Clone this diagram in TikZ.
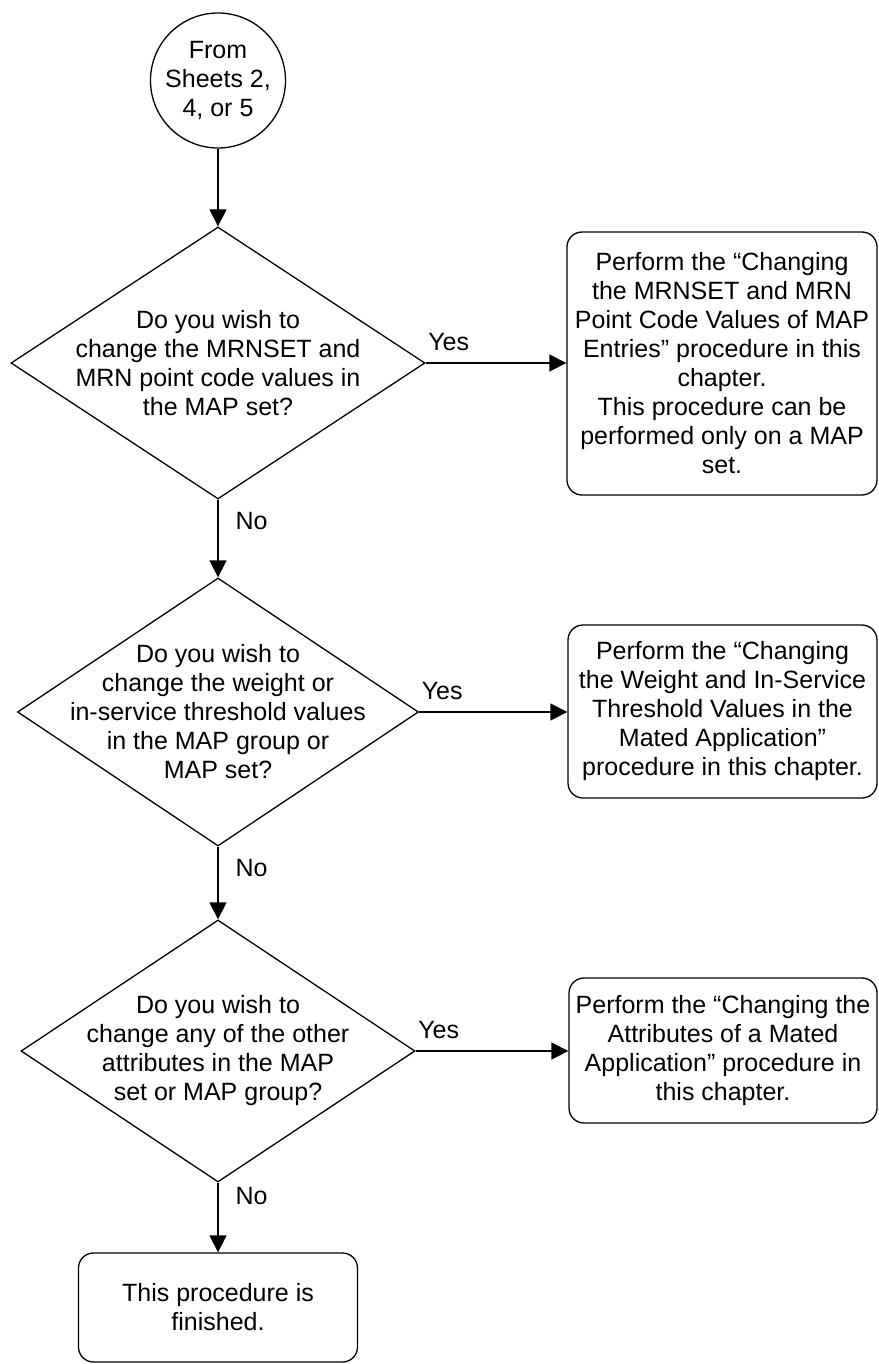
\documentclass[tikz,border=0pt]{standalone}
\usepackage{fontspec}
\setmainfont{Liberation Sans}
\usetikzlibrary{shapes.geometric,arrows.meta}
\begin{document}
\begin{tikzpicture}[x=1pt,y=-1pt,
  every node/.style={font=\fontsize{25}{29}\selectfont, align=center},
  ln/.style={line width=1.3pt},
  arr/.style={ln, -{Triangle[length=17pt,width=17pt]}},
  startc/.style={circle, draw, ln, minimum size=135pt, inner sep=0pt},
  dec/.style={diamond, draw, ln, inner sep=0pt},
  procbox/.style={rectangle, draw, ln, rounded corners=15pt, inner sep=0pt},
  lbl/.style={inner sep=0pt}]
\useasboundingbox (0,0) rectangle (878,1364);

\node[startc] (c) at (218,80.5) {From\\Sheets 2,\\4, or 5};

\node[dec, minimum width=414pt, minimum height=272pt,
  label={center:{Do you wish to\\change the MRNSET and\\MRN point code values in\\the MAP set?}}]
  (d1) at (218,363) {};
\node[dec, minimum width=401pt, minimum height=268pt,
  label={center:{Do you wish to\\change the weight or\\in-service threshold values\\in the MAP group or\\MAP set?}}]
  (d2) at (218,712) {};
\node[dec, minimum width=394pt, minimum height=262pt,
  label={center:{Do you wish to\\change any of the other\\attributes in the MAP\\set or MAP group?}}]
  (d3) at (218,1051) {};

\node[procbox, minimum width=310pt, minimum height=263pt] (b1) at (722,363.5)
  {Perform the “Changing\\the MRNSET and MRN\\Point Code Values of MAP\\Entries" procedure in this\\chapter.\\This procedure can be\\performed only on a MAP\\set.};
\node[procbox, minimum width=309pt, minimum height=173pt] (b2) at (722.5,711.5)
  {Perform the “Changing\\the Weight and In-Service\\Threshold Values in the\\Mated Application"\\procedure in this chapter.};
\node[procbox, minimum width=308pt, minimum height=145pt] (b3) at (723,1050.5)
  {Perform the “Changing the\\Attributes of a Mated\\Application" procedure in\\this chapter.};

\node[procbox, minimum width=279pt, minimum height=109pt] (fin) at (218,1307.5)
  {This procedure is\\finished.};

\draw[arr] (c.south) -- (d1.north);
\draw[arr] (d1.east) -- node[lbl, at start, anchor=west, xshift=2pt, yshift=21pt] (y1) {Yes} (d1.east -| b1.west);
\draw[arr] (d1.south) -- node[lbl, at start, anchor=west, xshift=17pt, yshift=-21pt] (n1) {No} (d2.north);
\draw[arr] (d2.east) -- node[lbl, at start, anchor=west, xshift=2pt, yshift=21pt] (y2) {Yes} (d2.east -| b2.west);
\draw[arr] (d2.south) -- node[lbl, at start, anchor=west, xshift=17pt, yshift=-21pt] (n2) {No} (d3.north);
\draw[arr] (d3.east) -- node[lbl, at start, anchor=west, xshift=2pt, yshift=21pt] (y3) {Yes} (d3.east -| b3.west);
\draw[arr] (d3.south) -- node[lbl, at start, anchor=west, xshift=17pt, yshift=-13pt] (n3) {No} (fin.north);
\end{tikzpicture}
\end{document}
